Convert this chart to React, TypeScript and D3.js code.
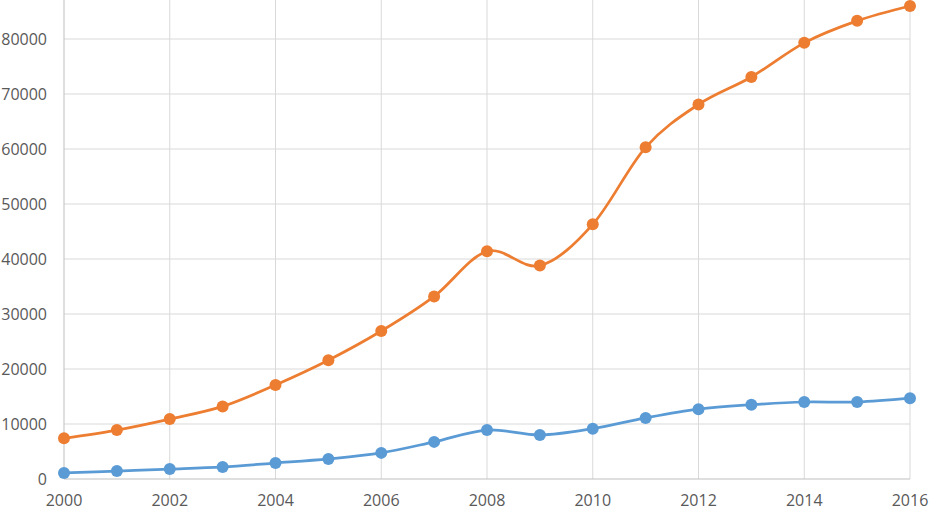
import React, { useEffect, useRef } from "react";
import * as d3 from "d3";

const years = [2000, 2001, 2002, 2003, 2004, 2005, 2006, 2007, 2008, 2009, 2010, 2011, 2012, 2013, 2014, 2015, 2016];
const seriesOrange = [7400, 8900, 10900, 13200, 17100, 21600, 26900, 33200, 41400, 38800, 46300, 60300, 68100, 73100, 79300, 83300, 86000];
const seriesBlue = [1100, 1450, 1800, 2200, 2900, 3650, 4750, 6750, 8900, 8000, 9150, 11100, 12700, 13500, 14000, 14000, 14700];
const yTicks = [0, 10000, 20000, 30000, 40000, 50000, 60000, 70000, 80000];
const xTicks = [2000, 2002, 2004, 2006, 2008, 2010, 2012, 2014, 2016];

const W = 929;
const H = 510;

export default function App() {
  const ref = useRef<SVGSVGElement>(null);
  useEffect(() => {
    const svg = d3.select(ref.current);
    svg.selectAll("*").remove();
    const x = d3.scaleLinear().domain([2000, 2016]).range([64, 910]);
    const y = d3.scaleLinear().domain([0, 80000]).range([479, 39]);
    const font = "'Open Sans', 'Liberation Sans', sans-serif";

    const g = svg.append("g");
    g.selectAll("line.h").data(yTicks.slice(1)).enter().append("line")
      .attr("x1", 64).attr("x2", 910).attr("y1", (d) => y(d)).attr("y2", (d) => y(d))
      .attr("stroke", "#d9d9d9").attr("stroke-width", 1);
    g.selectAll("line.v").data(xTicks.slice(1)).enter().append("line")
      .attr("x1", (d) => x(d)).attr("x2", (d) => x(d)).attr("y1", 0).attr("y2", 479)
      .attr("stroke", "#d9d9d9").attr("stroke-width", 1);
    g.append("line").attr("x1", 64).attr("x2", 64).attr("y1", 0).attr("y2", 479)
      .attr("stroke", "#bfbfbf").attr("stroke-width", 1);
    g.append("line").attr("x1", 64).attr("x2", 910).attr("y1", 479).attr("y2", 479)
      .attr("stroke", "#bfbfbf").attr("stroke-width", 1);

    g.selectAll("text.y").data(yTicks).enter().append("text")
      .attr("x", 47).attr("y", (d) => y(d)).attr("dy", "0.35em")
      .attr("text-anchor", "end").attr("font-family", font).attr("font-size", 16)
      .attr("fill", "#595959").text((d) => String(d));
    g.selectAll("text.x").data(xTicks).enter().append("text")
      .attr("x", (d) => x(d)).attr("y", 500).attr("dy", "0.35em")
      .attr("text-anchor", "middle").attr("font-family", font).attr("font-size", 16)
      .attr("fill", "#595959").text((d) => String(d));

    const line = d3.line<number>()
      .x((_, i) => x(years[i]))
      .y((d) => y(d))
      .curve(d3.curveCardinal.tension(0));

    const drawSeries = (data: number[], color: string) => {
      g.append("path").attr("d", line(data)).attr("fill", "none")
        .attr("stroke", color).attr("stroke-width", 2.75);
      g.selectAll(null).data(data).enter().append("circle")
        .attr("cx", (_, i) => x(years[i])).attr("cy", (d) => y(d)).attr("r", 6)
        .attr("fill", color);
    };
    drawSeries(seriesBlue, "#5B9BD5");
    drawSeries(seriesOrange, "#ED7D31");
  }, []);
  return (
    <svg ref={ref} width={W} height={H}
      style={{ position: "absolute", left: 0, top: 0, background: "#fff", display: "block" }} />
  );
}
